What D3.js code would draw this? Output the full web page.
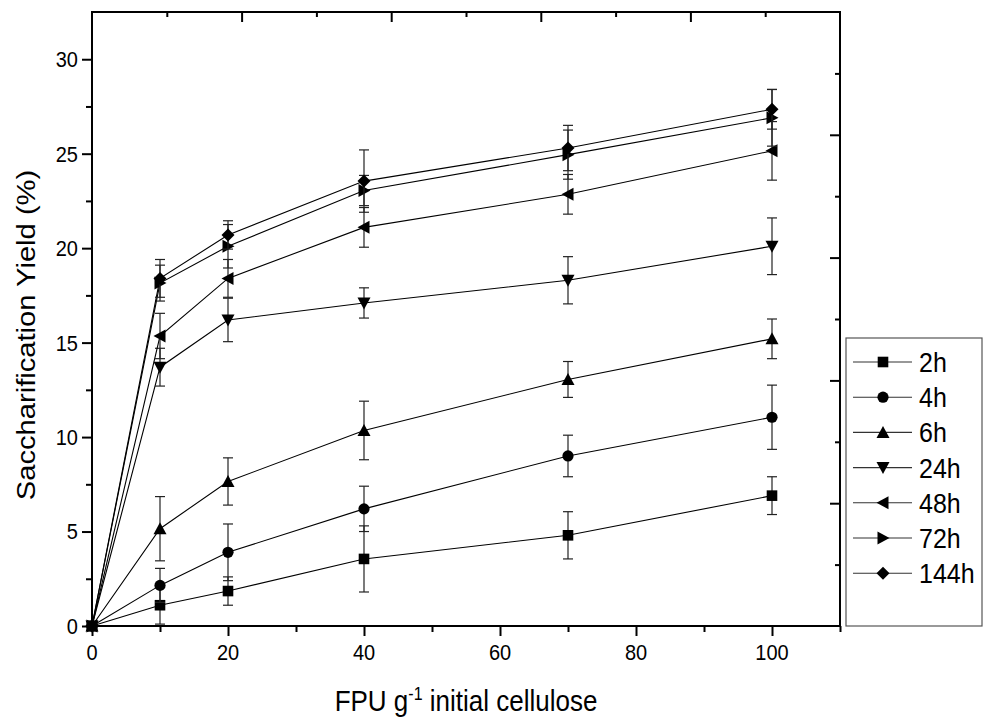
<!DOCTYPE html>
<html>
<head>
<meta charset="utf-8">
<script src="https://cdn.jsdelivr.net/npm/d3@7"></script>
<style>
  body { margin: 0; background: #fff; }
  text { font-family: "Liberation Sans", Arial, sans-serif; fill: #000; }
</style>
</head>
<body>
<script>
var width = 983
var height = 722

// enzyme loading, FPU per g initial cellulose
var loadings = [0, 10, 20, 40, 70, 100]
var seriesNames = ["2h", "4h", "6h", "24h", "48h", "72h", "144h"]
var symbolNames = ["square", "circle", "up", "down", "left", "right", "diamond"]

var yield2h = [0, 1.1, 1.85, 3.55, 4.8, 6.9]
var yield4h = [0, 2.15, 3.9, 6.2, 9.0, 11.05]
var yield6h = [0, 5.15, 7.65, 10.35, 13.05, 15.2]
var yield24h = [0, 13.7, 16.2, 17.1, 18.3, 20.1]
var yield48h = [0, 15.35, 18.4, 21.1, 22.85, 25.15]
var yield72h = [0, 18.15, 20.1, 23.05, 24.95, 26.9]
var yield144h = [0, 18.4, 20.7, 23.55, 25.3, 27.35]

var err2h = [0, 1.0, 0.75, 1.75, 1.25, 1.0]
var err4h = [0, 0.9, 1.5, 1.2, 1.1, 1.7]
var err6h = [0, 1.7, 1.25, 1.55, 0.95, 1.05]
var err24h = [0, 1.0, 1.15, 0.8, 1.25, 1.5]
var err48h = [0, 1.2, 1.0, 1.05, 1.05, 1.55]
var err72h = [0, 0.95, 1.15, 0.8, 1.3, 1.5]
var err144h = [0, 1.0, 0.75, 1.65, 1.2, 1.05]

var xTicksMajor = [0, 20, 40, 60, 80, 100]
var xTicksMinor = [10, 30, 50, 70, 90, 110]
var yTicksMajor = [0, 5, 10, 15, 20, 25, 30]
var yTicksMinor = [2.5, 7.5, 12.5, 17.5, 22.5, 27.5]

var allYields = [yield2h, yield4h, yield6h, yield24h, yield48h, yield72h, yield144h]
var allErrs = [err2h, err4h, err6h, err24h, err48h, err72h, err144h]

// text in the source picture is stretched a bit vertically
var SY = 1.1

var plot = { left: 92, right: 840, top: 12, bottom: 626 }

var x = d3.scaleLinear().domain([0, 110]).range([plot.left, plot.right])
var y = d3.scaleLinear().domain([0, 32.5]).range([plot.bottom, plot.top])
// opposite axes in the original just split the frame into ten parts
var x2 = d3.scaleLinear().domain([0, 10]).range([plot.left, plot.right])
var y2 = d3.scaleLinear().domain([0, 10]).range([plot.bottom, plot.top])

var svg = d3.select("body").append("svg")
    .attr("width", width)
    .attr("height", height)

function markerPath(kind) {
    var s = 6.5
    if (kind == "square") { s = 5.3; return "M" + -s + "," + -s + "H" + s + "V" + s + "H" + -s + "Z" }
    if (kind == "circle") { s = 5.6; return "M" + s + ",0A" + s + "," + s + " 0 1,1 " + -s + ",0A" + s + "," + s + " 0 1,1 " + s + ",0Z" }
    if (kind == "up") return "M0," + -s + "L" + s + "," + s * 0.85 + "L" + -s + "," + s * 0.85 + "Z"
    if (kind == "down") return "M0," + s + "L" + s + "," + -s * 0.85 + "L" + -s + "," + -s * 0.85 + "Z"
    if (kind == "left") return "M" + -s + ",0L" + s * 0.85 + "," + -s + "L" + s * 0.85 + "," + s + "Z"
    if (kind == "right") return "M" + s + ",0L" + -s * 0.85 + "," + -s + "L" + -s * 0.85 + "," + s + "Z"
    if (kind == "diamond") return "M0," + -s + "L" + s + ",0L0," + s + "L" + -s + ",0Z"
}

function axisStyle(g) {
    g.select(".domain").remove()
    g.selectAll(".tick line").attr("stroke", "#000").attr("stroke-width", 2)
}

// bottom axis
svg.append("g")
    .attr("transform", "translate(0," + plot.bottom + ")")
    .call(d3.axisBottom(x).tickValues(xTicksMajor).tickSize(10).tickFormat(""))
    .call(axisStyle)
svg.append("g")
    .attr("transform", "translate(0," + plot.bottom + ")")
    .call(d3.axisBottom(x).tickValues(xTicksMinor).tickSize(6).tickFormat(""))
    .call(axisStyle)

svg.selectAll(".xlab")
    .data(xTicksMajor)
    .enter()
    .append("text")
    .attr("transform", function(d) { return "translate(" + x(d) + ",660) scale(1," + SY + ")" })
    .attr("text-anchor", "middle")
    .style("font-size", "20px")
    .text(function(d) { return d })

// left axis
svg.append("g")
    .attr("transform", "translate(" + plot.left + ",0)")
    .call(d3.axisLeft(y).tickValues(yTicksMajor).tickSize(10).tickFormat(""))
    .call(axisStyle)
svg.append("g")
    .attr("transform", "translate(" + plot.left + ",0)")
    .call(d3.axisLeft(y).tickValues(yTicksMinor).tickSize(6).tickFormat(""))
    .call(axisStyle)

svg.selectAll(".ylab")
    .data(yTicksMajor)
    .enter()
    .append("text")
    .attr("transform", function(d) { return "translate(78," + y(d) + ") scale(1," + SY + ")" })
    .attr("text-anchor", "end")
    .attr("dy", "0.36em")
    .style("font-size", "20px")
    .text(function(d) { return d })

// top and right axes, ticks inward
svg.append("g")
    .attr("transform", "translate(0," + plot.top + ")")
    .call(d3.axisTop(x2).tickValues([2, 4, 6, 8]).tickSize(-10).tickFormat(""))
    .call(axisStyle)
svg.append("g")
    .attr("transform", "translate(0," + plot.top + ")")
    .call(d3.axisTop(x2).tickValues([1, 3, 5, 7, 9]).tickSize(-5).tickFormat(""))
    .call(axisStyle)
svg.append("g")
    .attr("transform", "translate(" + plot.right + ",0)")
    .call(d3.axisRight(y2).tickValues([2, 4, 6, 8]).tickSize(-10).tickFormat(""))
    .call(axisStyle)
svg.append("g")
    .attr("transform", "translate(" + plot.right + ",0)")
    .call(d3.axisRight(y2).tickValues([1, 3, 5, 7, 9]).tickSize(-5).tickFormat(""))
    .call(axisStyle)

// frame
svg.append("rect")
    .attr("x", plot.left)
    .attr("y", plot.top)
    .attr("width", plot.right - plot.left)
    .attr("height", plot.bottom - plot.top)
    .attr("fill", "none")
    .attr("stroke", "#000")
    .attr("stroke-width", 2)

// axis titles
var xt = svg.append("text")
    .attr("transform", "translate(" + (plot.left + plot.right) / 2 + ",711) scale(1," + SY + ")")
    .attr("text-anchor", "middle")
    .style("font-size", "26px")
xt.append("tspan").text("FPU g")
xt.append("tspan").attr("dy", -10).style("font-size", "16px").text("-1")
xt.append("tspan").attr("dy", 10).text(" initial cellulose")

svg.append("text")
    .attr("transform", "translate(35,335) scale(1," + SY + ") rotate(-90)")
    .attr("text-anchor", "middle")
    .style("font-size", "26.5px")
    .text("Saccharification Yield (%)")

// series
var line = d3.line()
    .x(function(d) { return x(d.x) })
    .y(function(d) { return y(d.y) })

allYields.forEach(function(vals, i) {
    var pts = loadings.map(function(l, j) { return { x: l, y: vals[j], e: allErrs[i][j] } })
    var g = svg.append("g")

    g.append("path")
        .datum(pts)
        .attr("d", line)
        .attr("fill", "none")
        .attr("stroke", "#000")
        .attr("stroke-width", 1.1)

    var bars = g.selectAll(".err")
        .data(pts.filter(function(p) { return p.e > 0 }))
        .enter()
        .append("g")
        .attr("stroke", "#222")
        .attr("stroke-width", 1.2)
    bars.append("line")
        .attr("x1", function(p) { return x(p.x) })
        .attr("x2", function(p) { return x(p.x) })
        .attr("y1", function(p) { return y(p.y - p.e) })
        .attr("y2", function(p) { return y(p.y + p.e) })
    bars.append("line")
        .attr("x1", function(p) { return x(p.x) - 5 })
        .attr("x2", function(p) { return x(p.x) + 5 })
        .attr("y1", function(p) { return y(p.y + p.e) })
        .attr("y2", function(p) { return y(p.y + p.e) })
    bars.append("line")
        .attr("x1", function(p) { return x(p.x) - 5 })
        .attr("x2", function(p) { return x(p.x) + 5 })
        .attr("y1", function(p) { return y(p.y - p.e) })
        .attr("y2", function(p) { return y(p.y - p.e) })

    g.selectAll(".mk")
        .data(pts)
        .enter()
        .append("path")
        .attr("transform", function(p) { return "translate(" + x(p.x) + "," + y(p.y) + ")" })
        .attr("d", markerPath(symbolNames[i]))
        .attr("fill", "#000")
})

// legend
var legend = svg.append("g")
legend.append("rect")
    .attr("x", 846)
    .attr("y", 338)
    .attr("width", 136)
    .attr("height", 288)
    .attr("fill", "#fff")
    .attr("stroke", "#555")
    .attr("stroke-width", 1.2)

seriesNames.forEach(function(name, i) {
    var ly = 362 + i * 35.2
    legend.append("line")
        .attr("x1", 853).attr("x2", 912)
        .attr("y1", ly).attr("y2", ly)
        .attr("stroke", "#333")
        .attr("stroke-width", 1.1)
    legend.append("path")
        .attr("transform", "translate(883," + ly + ")")
        .attr("d", markerPath(symbolNames[i]))
        .attr("fill", "#000")
    legend.append("text")
        .attr("transform", "translate(919," + ly + ") scale(1," + SY + ")")
        .attr("dy", "0.36em")
        .style("font-size", "25px")
        .text(name)
})
</script>
</body>
</html>
